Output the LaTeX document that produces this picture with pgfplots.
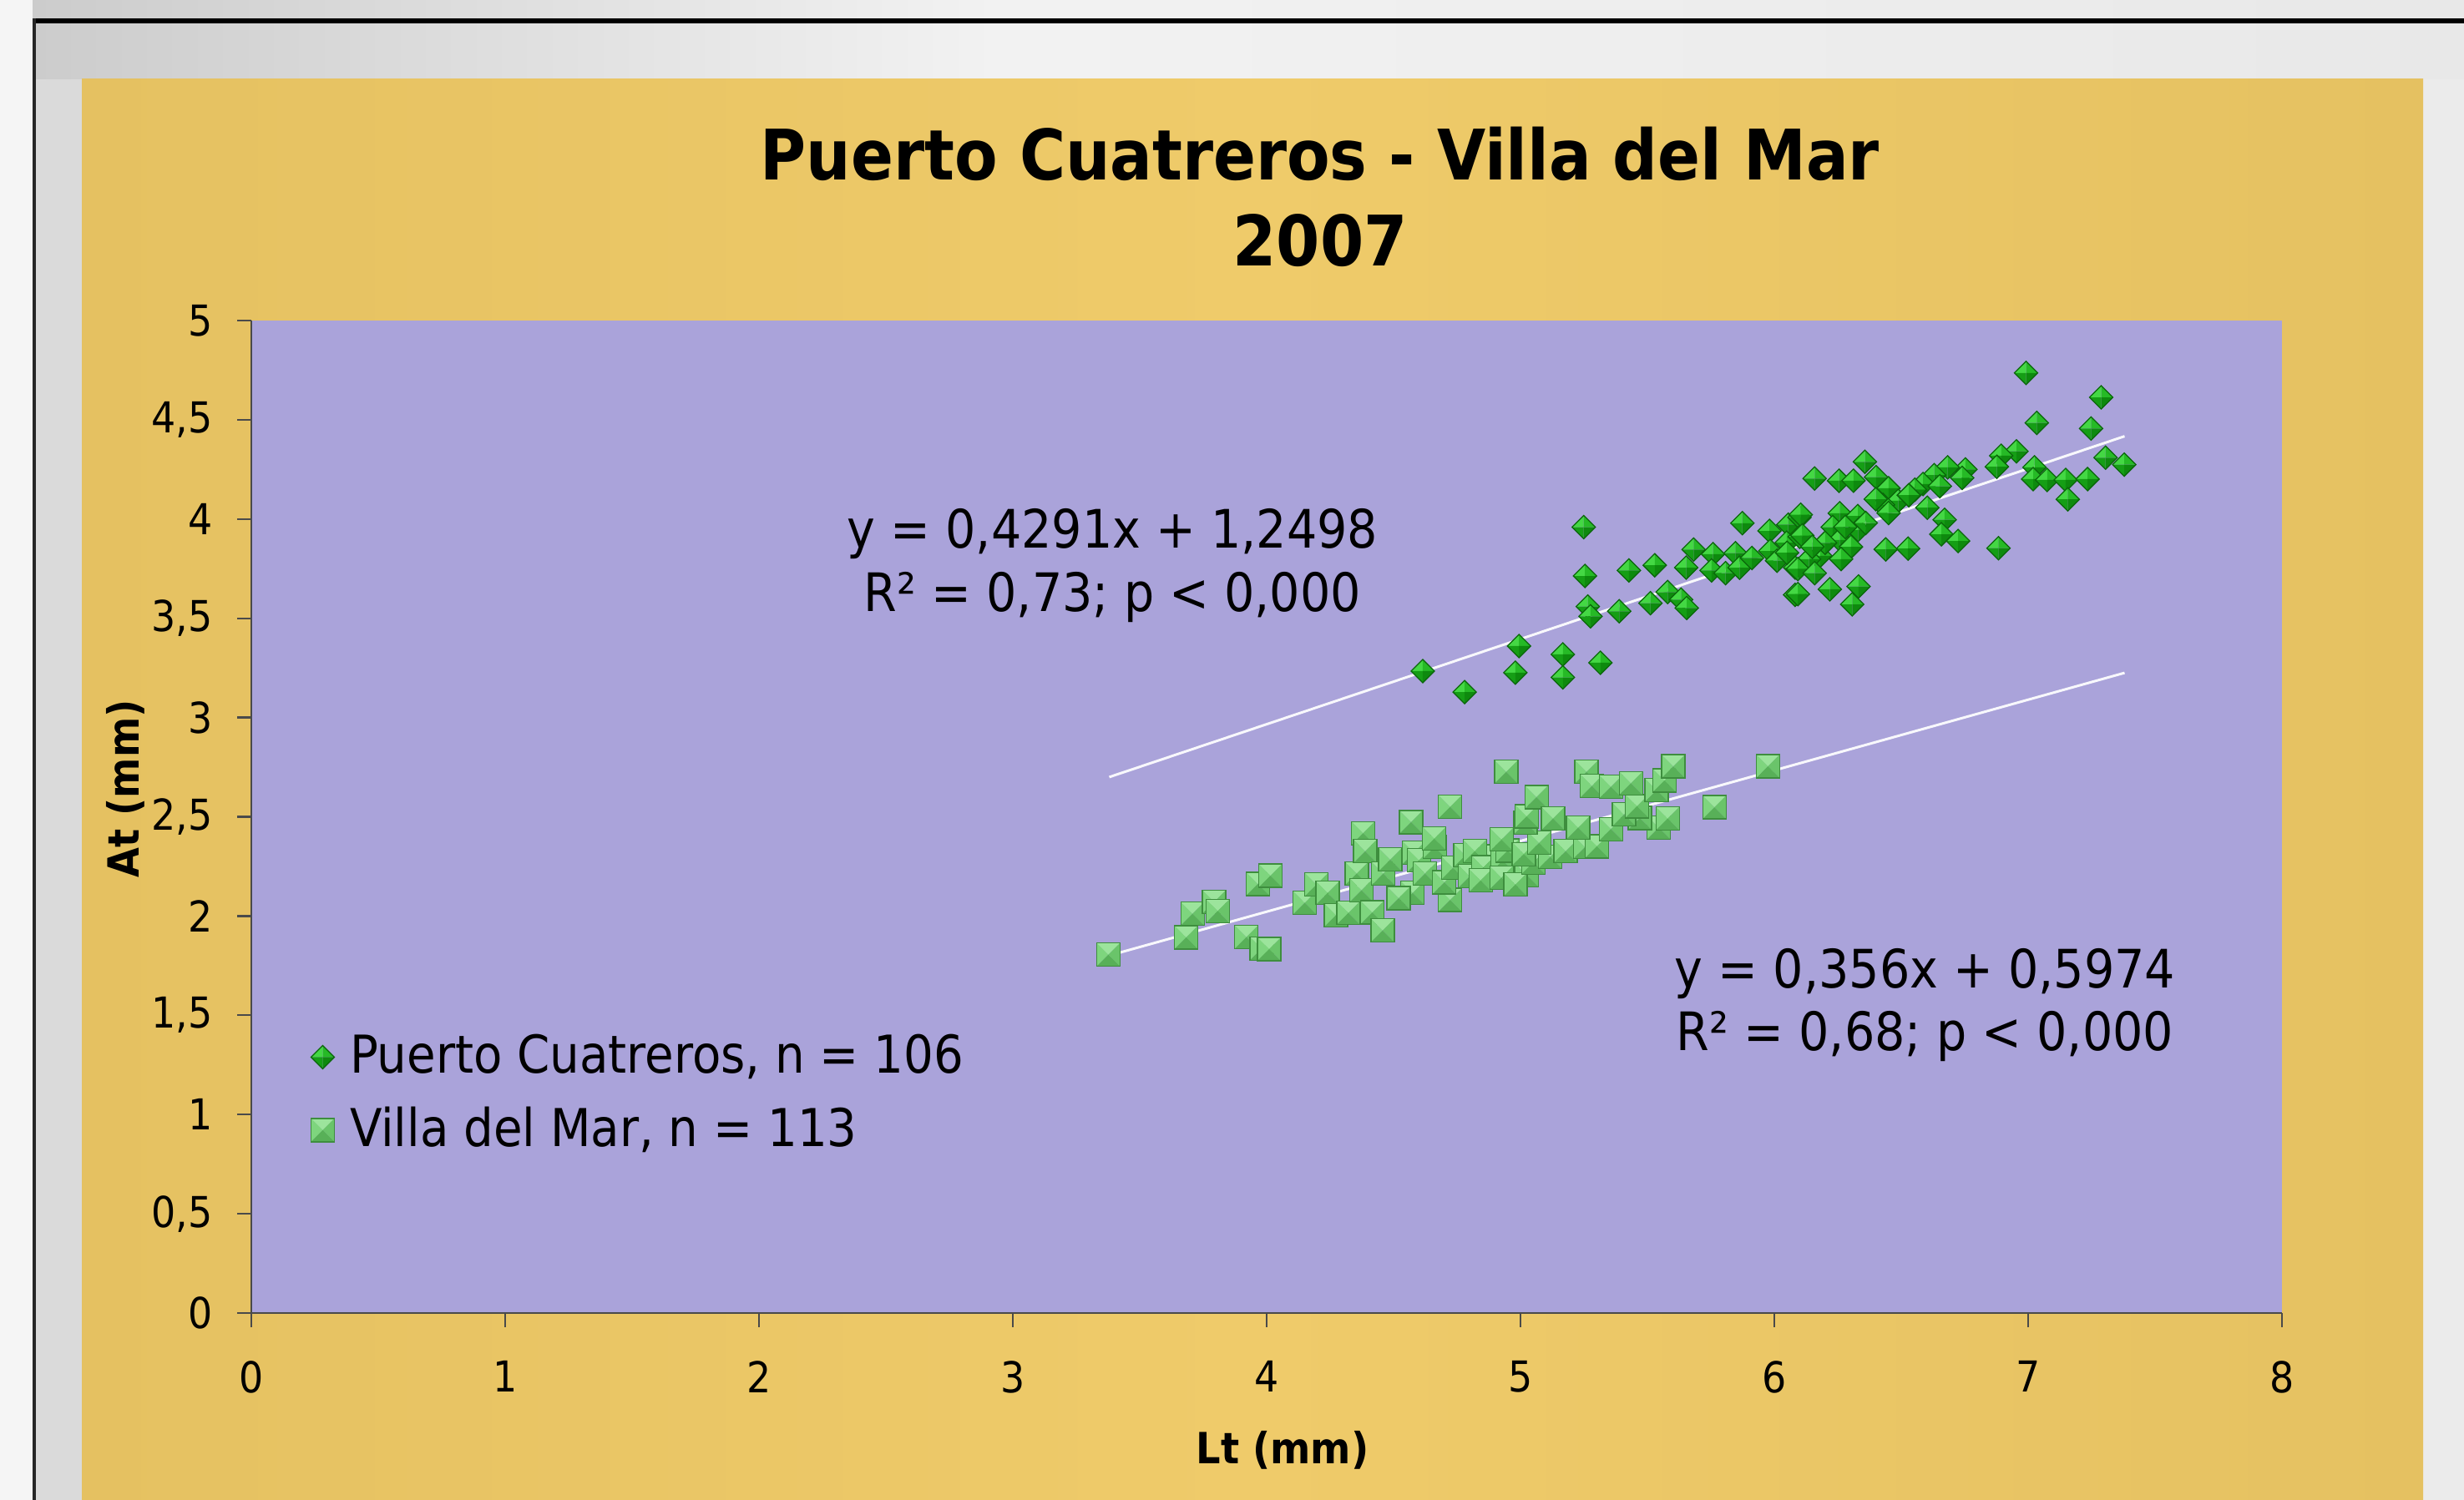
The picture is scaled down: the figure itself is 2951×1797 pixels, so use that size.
\documentclass[border=0pt]{standalone}
\usepackage{fontspec}
\setmainfont{DejaVu Sans Condensed}
\usepackage{pgfplots}
\pgfplotsset{compat=1.18}
\definecolor{gold}{HTML}{E5C161}
\definecolor{goldlight}{HTML}{EFCB6A}
\definecolor{lav}{HTML}{AAA3DA}
\definecolor{bggrey}{HTML}{DADADA}
\definecolor{axgrey}{HTML}{4A4A4A}
\definecolor{dgA}{HTML}{44D844}
\definecolor{dgB}{HTML}{26BA26}
\definecolor{dgC}{HTML}{159E15}
\definecolor{dgD}{HTML}{0E8A0E}
\definecolor{dgE}{HTML}{0A660A}
\definecolor{sgA}{HTML}{9CE49C}
\definecolor{sgB}{HTML}{7ED57E}
\definecolor{sgC}{HTML}{6AC46A}
\definecolor{sgD}{HTML}{58B058}
\definecolor{sgE}{HTML}{3E8E3E}
\pgfdeclareplotmark{pdiam}{%
  \pgfsetlinewidth{0.25pt}%
  \begin{pgfscope}\pgfsetfillcolor{dgA}%
  \pgfpathmoveto{\pgfqpoint{0pt}{\pgfplotmarksize}}\pgfpathlineto{\pgfqpoint{-\pgfplotmarksize}{0pt}}\pgfpathlineto{\pgfqpoint{0pt}{0pt}}\pgfpathclose\pgfusepath{fill}\end{pgfscope}%
  \begin{pgfscope}\pgfsetfillcolor{dgB}%
  \pgfpathmoveto{\pgfqpoint{0pt}{\pgfplotmarksize}}\pgfpathlineto{\pgfqpoint{\pgfplotmarksize}{0pt}}\pgfpathlineto{\pgfqpoint{0pt}{0pt}}\pgfpathclose\pgfusepath{fill}\end{pgfscope}%
  \begin{pgfscope}\pgfsetfillcolor{dgC}%
  \pgfpathmoveto{\pgfqpoint{0pt}{-\pgfplotmarksize}}\pgfpathlineto{\pgfqpoint{-\pgfplotmarksize}{0pt}}\pgfpathlineto{\pgfqpoint{0pt}{0pt}}\pgfpathclose\pgfusepath{fill}\end{pgfscope}%
  \begin{pgfscope}\pgfsetfillcolor{dgD}%
  \pgfpathmoveto{\pgfqpoint{0pt}{-\pgfplotmarksize}}\pgfpathlineto{\pgfqpoint{\pgfplotmarksize}{0pt}}\pgfpathlineto{\pgfqpoint{0pt}{0pt}}\pgfpathclose\pgfusepath{fill}\end{pgfscope}%
  \begin{pgfscope}\pgfsetstrokecolor{dgE}%
  \pgfpathmoveto{\pgfqpoint{0pt}{\pgfplotmarksize}}\pgfpathlineto{\pgfqpoint{\pgfplotmarksize}{0pt}}\pgfpathlineto{\pgfqpoint{0pt}{-\pgfplotmarksize}}\pgfpathlineto{\pgfqpoint{-\pgfplotmarksize}{0pt}}\pgfpathclose\pgfusepath{stroke}\end{pgfscope}%
}
\pgfdeclareplotmark{psq}{%
  \pgfsetlinewidth{0.25pt}%
  \begin{pgfscope}\pgfsetfillcolor{sgA}%
  \pgfpathmoveto{\pgfqpoint{-\pgfplotmarksize}{\pgfplotmarksize}}\pgfpathlineto{\pgfqpoint{\pgfplotmarksize}{\pgfplotmarksize}}\pgfpathlineto{\pgfqpoint{0pt}{0pt}}\pgfpathclose\pgfusepath{fill}\end{pgfscope}%
  \begin{pgfscope}\pgfsetfillcolor{sgB}%
  \pgfpathmoveto{\pgfqpoint{-\pgfplotmarksize}{\pgfplotmarksize}}\pgfpathlineto{\pgfqpoint{-\pgfplotmarksize}{-\pgfplotmarksize}}\pgfpathlineto{\pgfqpoint{0pt}{0pt}}\pgfpathclose\pgfusepath{fill}\end{pgfscope}%
  \begin{pgfscope}\pgfsetfillcolor{sgC}%
  \pgfpathmoveto{\pgfqpoint{\pgfplotmarksize}{\pgfplotmarksize}}\pgfpathlineto{\pgfqpoint{\pgfplotmarksize}{-\pgfplotmarksize}}\pgfpathlineto{\pgfqpoint{0pt}{0pt}}\pgfpathclose\pgfusepath{fill}\end{pgfscope}%
  \begin{pgfscope}\pgfsetfillcolor{sgD}%
  \pgfpathmoveto{\pgfqpoint{-\pgfplotmarksize}{-\pgfplotmarksize}}\pgfpathlineto{\pgfqpoint{\pgfplotmarksize}{-\pgfplotmarksize}}\pgfpathlineto{\pgfqpoint{0pt}{0pt}}\pgfpathclose\pgfusepath{fill}\end{pgfscope}%
  \begin{pgfscope}\pgfsetstrokecolor{sgE}%
  \pgfpathrectangle{\pgfqpoint{-\pgfplotmarksize}{-\pgfplotmarksize}}{\pgfqpoint{2\pgfplotmarksize}{2\pgfplotmarksize}}\pgfusepath{stroke}\end{pgfscope}%
}
\pgfplotstableread{
x y
5.249 3.959
5.254 3.713
5.265 3.559
5.276 3.510
5.427 3.741
5.529 3.767
5.389 3.535
5.512 3.576
5.580 3.632
5.633 3.594
5.655 3.552
5.653 3.755
5.682 3.846
5.759 3.823
5.753 3.741
5.808 3.727
5.847 3.828
5.863 3.755
5.874 3.979
5.912 3.804
5.981 3.940
5.984 3.839
6.011 3.790
6.055 3.972
6.049 3.881
6.082 3.755
6.082 3.618
6.099 4.008
6.100 3.910
4.615 3.234
4.780 3.128
4.994 3.360
4.980 3.226
5.167 3.318
5.167 3.202
5.315 3.276
6.992 4.736
7.288 4.613
7.034 4.484
7.248 4.456
7.305 4.309
7.379 4.274
6.954 4.341
6.894 4.319
6.877 4.263
7.025 4.260
7.020 4.201
7.075 4.197
7.148 4.197
7.234 4.201
7.156 4.099
6.883 3.853
6.753 4.250
6.683 4.260
6.630 4.221
6.586 4.176
6.554 4.148
6.652 4.165
6.740 4.207
6.603 4.057
6.671 3.996
6.658 3.923
6.724 3.889
6.527 3.851
6.439 3.847
6.357 4.288
6.401 4.211
6.450 4.155
6.489 4.092
6.428 4.071
6.450 4.030
6.159 4.204
6.255 4.193
6.312 4.193
6.258 4.029
6.329 4.015
6.230 3.959
6.330 3.945
6.258 3.895
6.302 3.860
6.104 4.022
6.110 3.917
6.181 3.815
6.137 3.798
6.263 3.798
6.093 3.748
6.159 3.727
6.093 3.622
6.219 3.646
6.332 3.660
6.307 3.570
6.200 3.880
6.150 3.860
6.280 3.960
6.360 3.980
6.400 4.100
6.530 4.120
6.050 3.830
}\puerto
\pgfplotstableread{
x y
3.376 1.805
3.683 1.892
3.708 2.011
3.793 2.071
3.807 2.025
3.920 1.894
3.980 1.836
4.010 1.833
3.965 2.161
4.015 2.203
4.150 2.067
4.196 2.158
4.240 2.116
4.273 2.004
4.322 2.015
4.355 2.214
4.374 2.130
4.380 2.417
4.388 2.326
4.416 2.018
4.457 1.927
4.459 2.214
4.487 2.284
4.569 2.473
4.580 2.319
4.575 2.116
4.520 2.090
4.600 2.280
4.624 2.214
4.662 2.347
4.660 2.390
4.723 2.550
4.723 2.081
4.700 2.170
4.734 2.242
4.783 2.305
4.800 2.200
4.880 2.300
4.820 2.326
4.854 2.245
4.843 2.179
4.930 2.280
4.950 2.330
4.925 2.385
4.925 2.193
5.024 2.207
4.980 2.158
5.050 2.270
5.013 2.312
5.117 2.298
5.178 2.326
5.073 2.368
5.020 2.470
5.024 2.502
5.063 2.599
5.128 2.491
4.944 2.726
5.254 2.347
5.301 2.351
5.227 2.445
5.356 2.438
5.545 2.445
5.580 2.491
5.470 2.494
5.408 2.511
5.459 2.553
5.764 2.548
5.260 2.726
5.281 2.655
5.356 2.651
5.435 2.669
5.536 2.634
5.567 2.683
5.602 2.754
5.975 2.754
}\villa
\begin{document}
\begin{tikzpicture}[x=0.2pt,y=0.2pt]
\path[use as bounding box] (0,0) rectangle (2951,1797);
\fill[bggrey] (0,0) rectangle (2951,1797);
\fill[black!4] (0,0) rectangle (39,1797);
\shade[left color=black!20, right color=black!5] (39,1702) rectangle (1200,1797);
\shade[left color=black!5, right color=black!9] (1200,1702) rectangle (2951,1797);
\fill[black!8] (2902,0) rectangle (2951,1702);
\shade[left color=gold, right color=goldlight] (98,0) rectangle (1500,1702);
\shade[left color=goldlight, right color=gold] (1500,0) rectangle (2902,1702);
\fill[black] (39,1769) rectangle (2951,1775);
\fill[black!85] (39,0) rectangle (43,1775);
\begin{axis}[
  at={(60.2pt,44.8pt)}, anchor=south west,
  scale only axis, width=486.4pt, height=237.8pt,
  xmin=0, xmax=8, ymin=0, ymax=5,
  xtick={0,1,...,8}, ytick={0,0.5,...,5},
  axis lines*=left,
  axis line style={axgrey, line width=0.45pt},
  tick style={axgrey, line width=0.45pt},
  tick align=outside, major tick length=3.4pt,
  axis background/.style={fill=lav},
  /pgf/number format/use comma,
  /pgf/number format/assume math mode=true,
  ticklabel style={font=\fontsize{10.2}{12}\selectfont},
  yticklabel style={xshift=-2.4pt},
  xticklabel style={yshift=-4.6pt},
  legend style={at={(axis cs:0.23,1.104)}, anchor=west, draw=none, fill=none,
    font=\fontsize{12.5}{14}\selectfont, inner sep=0pt, row sep=4.6pt,
    column sep=2.6pt, nodes={inner sep=1pt}},
  legend cell align=left,
  legend image code/.code={\draw[#1] plot coordinates {(0pt,0pt)};},
  clip=false,
]
\addplot[only marks, mark=pdiam, mark size=2.8pt] table {\puerto};
\addlegendentry{Puerto Cuatreros, n = 106}
\addplot[only marks, mark=psq, mark size=2.8pt] table {\villa};
\addlegendentry{Villa del Mar, n = 113}
\addplot[forget plot, no marks, color=white!92!lav, line width=0.6pt] coordinates {(3.38,2.700) (7.38,4.417)};
\addplot[forget plot, no marks, color=white!92!lav, line width=0.6pt] coordinates {(3.38,1.801) (7.38,3.225)};
\node[font=\fontsize{12.7}{15}\selectfont] at (axis cs:3.393,3.925) {y = 0,4291x + 1,2498};
\node[font=\fontsize{12.7}{15}\selectfont] at (axis cs:3.393,3.605) {R² = 0,73; p < 0,000};
\node[font=\fontsize{12.7}{15}\selectfont] at (axis cs:6.594,1.71) {y = 0,356x + 0,5974};
\node[font=\fontsize{12.7}{15}\selectfont] at (axis cs:6.594,1.393) {R² = 0,68; p < 0,000};
\end{axis}
\node[font=\fontsize{16.7}{20}\selectfont\bfseries] at (1581,1613) {Puerto Cuatreros - Villa del Mar};
\node[font=\fontsize{16.7}{20}\selectfont\bfseries] at (1581,1509) {2007};
\node[font=\fontsize{10.3}{12}\selectfont\bfseries, rotate=90] at (150.6,852) {At (mm)};
\node[font=\fontsize{10.3}{12}\selectfont\bfseries] at (1536,60) {Lt (mm)};
\end{tikzpicture}
\end{document}
